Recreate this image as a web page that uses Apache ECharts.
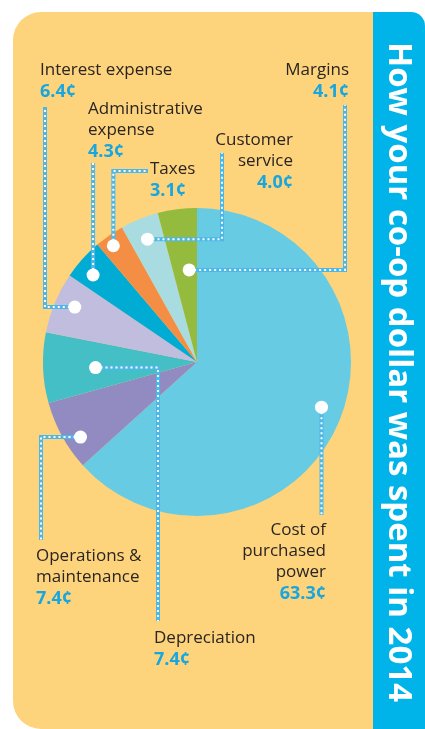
<!DOCTYPE html>
<html>
<head>
<meta charset="utf-8">
<script src="https://cdn.jsdelivr.net/npm/echarts@6/dist/echarts.min.js"></script>
<style>
html, body { margin: 0; padding: 0; background: #fff; }
#main { width: 425px; height: 729px; }
</style>
</head>
<body>
<div id="main"></div>
<script>
// co-op dollar, cents per category (clockwise from 12 o'clock)
const categories = ['Cost of purchased power', 'Operations & maintenance', 'Depreciation', 'Interest expense',
  'Administrative expense', 'Taxes', 'Customer service', 'Margins']
const cents = [63.3, 7.4, 7.4, 6.4, 4.3, 3.1, 4.0, 4.1]
const nameLines = [['Cost of', 'purchased', 'power'], ['Operations &', 'maintenance'], ['Depreciation'],
  ['Interest expense'], ['Administrative', 'expense'], ['Taxes'], ['Customer', 'service'], ['Margins']]
const titleText = 'How your co-op dollar was spent in 2014'

const colors = ['#66cbe3', '#918bc2', '#45bfc6', '#c0bdde', '#00acd4', '#f48e45', '#a8dce0', '#94ba3e']
const CX = 197
const CY = 362
const R = 154

// callout layout: dot radius (fraction of R), angle nudge (deg), leader path, label anchor
const callouts = [
  { r: 0.86, nudge: -4, path: [['v', 515]], x: 326, y: 520, align: 'right' },
  { r: 0.9, nudge: -4, path: [['h', 41], ['v', 540]], x: 36, y: 546, align: 'left' },
  { r: 0.66, nudge: -1, path: [['h', 158], ['v', 621]], x: 154, y: 628, align: 'left' },
  { r: 0.87, nudge: 1.5, path: [['h', 45], ['v', 107]], x: 40, y: 60, align: 'left' },
  { r: 0.88, nudge: -2, path: [['v', 163]], x: 88, y: 99, align: 'left' },
  { r: 0.93, nudge: -1, path: [['v', 171], ['h', 148]], x: 150, y: 159, align: 'left' },
  { r: 0.86, nudge: 0, path: [['h', 222], ['v', 153]], x: 293, y: 130, align: 'right' },
  { r: 0.6, nudge: 2.5, path: [['h', 345], ['v', 105]], x: 349, y: 60, align: 'right' }
]

const chart = echarts.init(document.getElementById('main'))

const total = cents.reduce((a, b) => a + b, 0)
const overlay = []
let acc = 0
cents.forEach((v, i) => {
  const c = callouts[i]
  const deg = (acc + v / 2) / total * 360 + c.nudge
  acc += v
  const a = deg * Math.PI / 180
  const dx = CX + c.r * R * Math.sin(a)
  const dy = CY - c.r * R * Math.cos(a)
  const pts = [[dx, dy]]
  let px = dx
  let py = dy
  c.path.forEach(([dir, to]) => {
    if (dir === 'h') px = to
    else py = to
    pts.push([px, py])
  })
  overlay.push({
    type: 'polyline', z: 50, silent: true,
    shape: { points: pts },
    style: { stroke: '#4db8e8', lineWidth: 4, fill: null }
  })
  overlay.push({
    type: 'polyline', z: 51, silent: true,
    shape: { points: pts },
    style: { stroke: '#fff', lineWidth: 2, lineDash: [2, 3], fill: null }
  })
  overlay.push({
    type: 'circle', z: 52, silent: true,
    shape: { cx: dx, cy: dy, r: 6.5 },
    style: { fill: '#fff' }
  })
  overlay.push({
    type: 'text', z: 52, silent: true,
    style: {
      x: c.x,
      y: c.y,
      align: c.align,
      verticalAlign: 'top',
      text: nameLines[i].map(t => '{n|' + t + '}').join('\n') + '\n{v|' + v.toFixed(1) + '¢}',
      rich: {
        n: { fontFamily: 'Open Sans', fontSize: 17, fill: '#2a2523', lineHeight: 21 },
        v: { fontFamily: 'Open Sans', fontSize: 18, fontWeight: 'bold', fill: '#17a6e0', lineHeight: 21 }
      }
    }
  })
})

const option = {
  backgroundColor: '#fff',
  animation: false,
  color: colors,
  graphic: [
    {
      type: 'rect', z: -10, silent: true,
      shape: { x: 13, y: 12, width: 372, height: 717, r: [28, 0, 0, 28] },
      style: { fill: '#fdd37b' }
    },
    {
      type: 'rect', z: -9, silent: true,
      shape: { x: 373, y: 12, width: 52, height: 717, r: [0, 14, 0, 0] },
      style: { fill: '#00b4ea' }
    },
    {
      type: 'text', z: 52, silent: true,
      x: 398, y: 372, rotation: -Math.PI / 2,
      style: {
        x: 0, y: 0, align: 'center', verticalAlign: 'middle',
        text: titleText,
        fontFamily: 'Open Sans', fontSize: 33, fontWeight: 'bold', fill: '#fff'
      }
    }
  ].concat(overlay),
  series: [{
    type: 'pie',
    center: [CX, CY],
    radius: [0, R],
    startAngle: 90,
    clockwise: true,
    silent: true,
    label: { show: false },
    labelLine: { show: false },
    itemStyle: { borderWidth: 0 },
    data: categories.map((name, i) => ({ name: name, value: cents[i] }))
  }]
}

chart.setOption(option)
</script>
</body>
</html>
